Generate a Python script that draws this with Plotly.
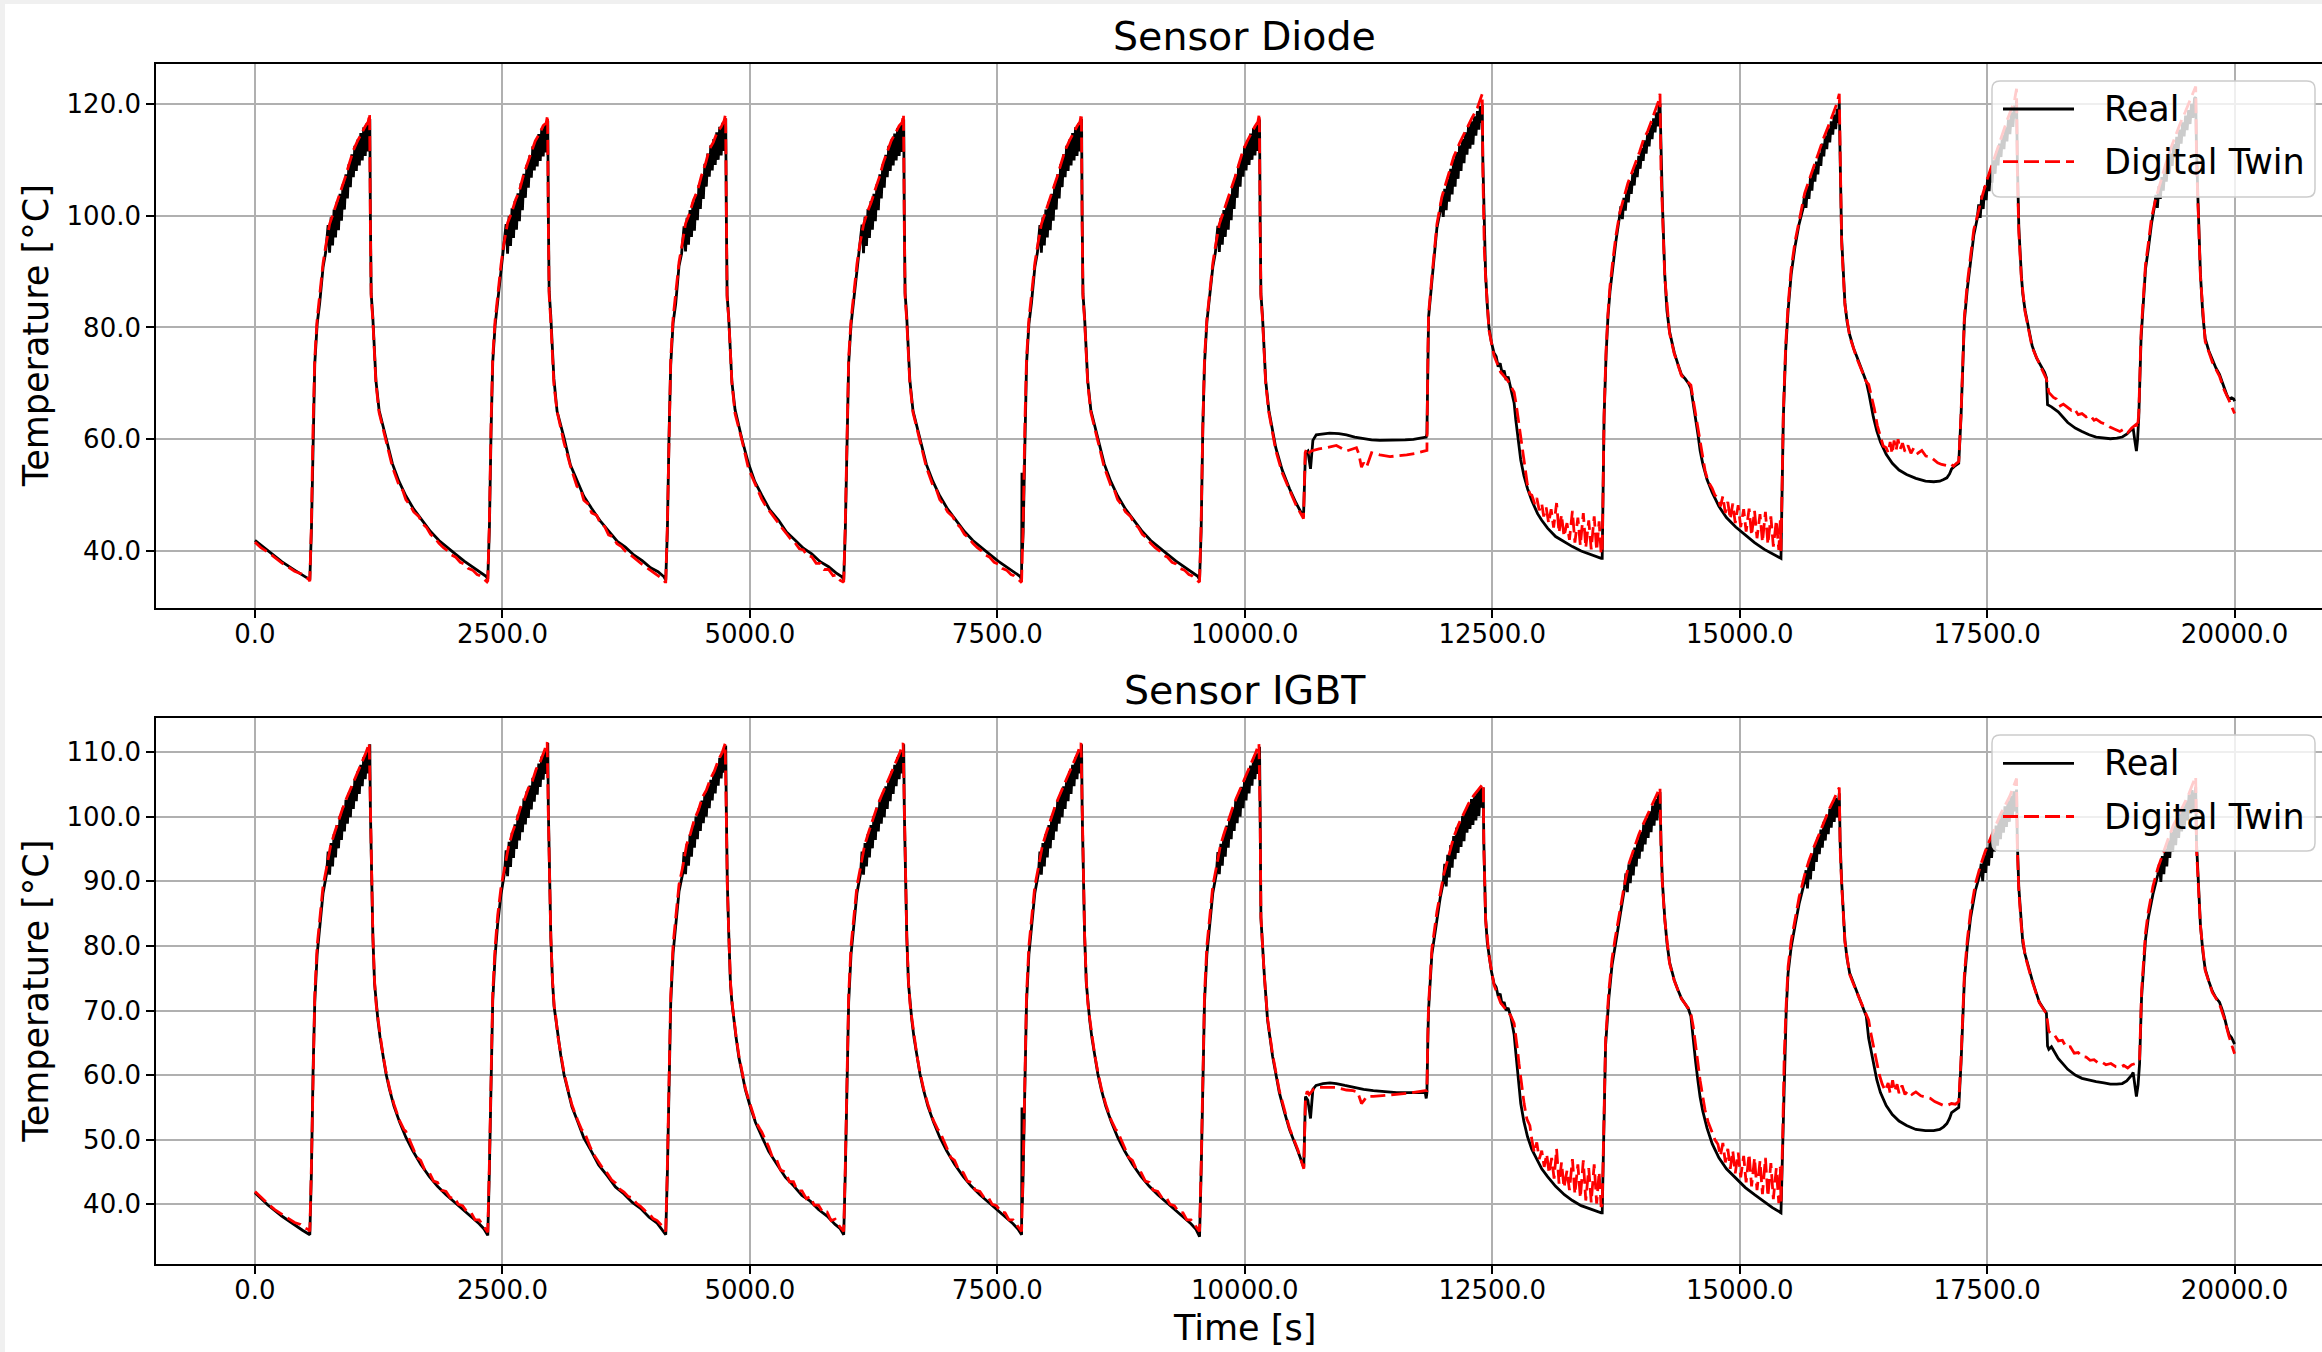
import plotly.graph_objects as go

# ---------------- data (time [s], temperature [°C]) ----------------
X_TICKS = [0, 2500, 5000, 7500, 10000, 12500, 15000, 17500, 20000]
Y_TICKS_DIODE = [40, 60, 80, 100, 120]
Y_TICKS_IGBT = [40, 50, 60, 70, 80, 90, 100, 110]

DIODE_REAL = [
    (0, 41.9), (130, 40.0), (270, 38.1), (400, 36.6), (480, 35.7),
    # cycle 1
    (554, 34.9), (570, 43.5), (587, 60.8), (604, 73.5), (628, 80.6), (654, 84.4), (688, 90.8), (714, 93.4),
    (739, 98.3), (754, 93.4), (769, 99.7), (784, 94.7), (799, 101.1), (814, 96.1), (829, 102.5), (844, 97.4), (859, 103.9), (874, 99.1), (889, 105.6), (904, 101.1), (919, 107.4), (934, 103.1), (949, 109.2), (964, 105.1), (979, 111.0), (994, 106.9), (1009, 112.5), (1024, 108.0), (1039, 113.6), (1054, 109.0), (1069, 114.8), (1084, 109.9), (1099, 115.8), (1114, 110.7), (1129, 116.5), (1144, 111.5), (1154, 116.0), (1160, 117.3),
    (1166, 100), (1174, 86), (1190, 82), (1205, 76.5), (1222, 70.5), (1254, 65.2), (1324, 60.1), (1389, 55.6), (1454, 52.5), (1524, 49.9), (1604, 47.5), (1694, 45.4), (1774, 43.5), (1859, 41.9), (1944, 40.6), (2029, 39.4), (2114, 38.2), (2199, 37.1), (2274, 36.2), (2334, 35.5),
    # cycle 2
    (2352, 35.0), (2368, 43.8), (2385, 61.2), (2402, 73.8), (2426, 80.4), (2452, 84.6), (2486, 90.5), (2512, 93.6),
    (2537, 98.5), (2552, 93.2), (2567, 99.9), (2582, 94.6), (2597, 101.3), (2612, 96.0), (2627, 102.6), (2642, 97.5), (2657, 104.0), (2672, 99.0), (2687, 105.8), (2702, 101.0), (2717, 107.5), (2732, 103.2), (2747, 109.1), (2762, 105.0), (2777, 110.8), (2792, 106.8), (2807, 112.4), (2822, 108.1), (2837, 113.5), (2852, 108.8), (2867, 114.6), (2882, 109.8), (2897, 115.6), (2912, 110.6), (2927, 116.3), (2942, 111.3), (2952, 115.8), (2958, 117.0),
    (2964, 100), (2972, 86.5), (2988, 82.2), (3003, 76.3), (3020, 70.8), (3052, 65.0), (3122, 60.3), (3187, 55.4), (3252, 52.6), (3322, 49.8), (3402, 47.6), (3492, 45.3), (3572, 43.6), (3657, 41.8), (3742, 40.7), (3827, 39.3), (3912, 38.3), (3997, 37.0), (4072, 36.3), (4132, 35.4),
    # cycle 3
    (4150, 34.8), (4166, 43.3), (4183, 60.5), (4200, 73.2), (4224, 80.8), (4250, 84.2), (4284, 91.0), (4310, 93.2),
    (4335, 98.1), (4350, 93.6), (4365, 99.6), (4380, 94.8), (4395, 101.0), (4410, 96.2), (4425, 102.4), (4440, 97.3), (4455, 103.8), (4470, 99.2), (4485, 105.5), (4500, 101.2), (4515, 107.3), (4530, 103.0), (4545, 109.3), (4560, 105.2), (4575, 111.1), (4590, 107.0), (4605, 112.6), (4620, 108.1), (4635, 113.7), (4650, 109.1), (4665, 114.9), (4680, 110.0), (4695, 115.9), (4710, 110.8), (4725, 116.6), (4740, 111.6), (4750, 116.2), (4756, 117.4),
    (4762, 100), (4770, 85.8), (4786, 81.8), (4801, 76.6), (4818, 70.3), (4850, 65.3), (4920, 60.0), (4985, 55.7), (5050, 52.4), (5120, 50.0), (5200, 47.4), (5290, 45.5), (5370, 43.4), (5455, 42.0), (5540, 40.5), (5625, 39.5), (5710, 38.1), (5795, 37.2), (5870, 36.1), (5930, 35.4),
    # cycle 4
    (5948, 34.9), (5964, 43.6), (5981, 61.0), (5998, 73.6), (6022, 80.5), (6048, 84.5), (6082, 90.6), (6108, 93.5),
    (6133, 98.4), (6148, 93.3), (6163, 99.8), (6178, 94.6), (6193, 101.2), (6208, 96.0), (6223, 102.6), (6238, 97.5), (6253, 103.9), (6268, 99.0), (6283, 105.6), (6298, 101.0), (6313, 107.4), (6328, 103.1), (6343, 109.2), (6358, 105.0), (6373, 110.9), (6388, 106.9), (6403, 112.5), (6418, 108.0), (6433, 113.6), (6448, 109.0), (6463, 114.7), (6478, 109.9), (6493, 115.7), (6508, 110.7), (6523, 116.4), (6538, 111.4), (6548, 115.9), (6554, 117.2),
    (6560, 100), (6568, 86.2), (6584, 82.1), (6599, 76.4), (6616, 70.6), (6648, 65.1), (6718, 60.2), (6783, 55.5), (6848, 52.5), (6918, 49.9), (6998, 47.5), (7088, 45.4), (7168, 43.5), (7253, 41.9), (7338, 40.6), (7423, 39.4), (7508, 38.2), (7593, 37.1), (7668, 36.2), (7728, 35.5),
    # cycle 5
    (7745, 34.9), (7749, 54.0), (7753, 40.0), (7761, 43.5), (7778, 60.8), (7795, 73.5), (7819, 80.6), (7845, 84.4), (7879, 90.8), (7905, 93.4),
    (7930, 98.3), (7945, 93.4), (7960, 99.7), (7975, 94.7), (7990, 101.1), (8005, 96.1), (8020, 102.5), (8035, 97.4), (8050, 103.9), (8065, 99.1), (8080, 105.6), (8095, 101.1), (8110, 107.4), (8125, 103.1), (8140, 109.2), (8155, 105.1), (8170, 111.0), (8185, 106.9), (8200, 112.5), (8215, 108.0), (8230, 113.6), (8245, 109.0), (8260, 114.8), (8275, 109.9), (8290, 115.8), (8305, 110.7), (8320, 116.5), (8335, 111.5), (8345, 116.0), (8351, 117.3),
    (8357, 100), (8365, 86), (8381, 82), (8396, 76.5), (8413, 70.5), (8445, 65.2), (8515, 60.1), (8580, 55.6), (8645, 52.5), (8715, 49.9), (8795, 47.5), (8885, 45.4), (8965, 43.5), (9050, 41.9), (9135, 40.6), (9220, 39.4), (9305, 38.2), (9390, 37.1), (9465, 36.2), (9525, 35.5),
    # cycle 6
    (9543, 34.9), (9559, 43.5), (9576, 62.0), (9593, 73.5), (9617, 81.0), (9643, 85.0), (9677, 90.8), (9703, 93.4),
    (9728, 98.2), (9743, 93.5), (9758, 99.6), (9773, 94.8), (9788, 101.0), (9803, 96.2), (9818, 102.4), (9833, 97.5), (9848, 103.8), (9863, 99.2), (9878, 105.5), (9893, 101.2), (9908, 107.3), (9923, 103.2), (9938, 109.1), (9953, 105.2), (9968, 110.9), (9983, 107.0), (9998, 112.4), (10013, 108.1), (10028, 113.5), (10043, 109.1), (10058, 114.7), (10073, 110.0), (10088, 115.7), (10103, 110.8), (10118, 116.4), (10133, 111.6), (10143, 115.9), (10149, 117.2),
    (10155, 100), (10163, 86), (10179, 82), (10194, 76.5), (10211, 70.5), (10243, 65.2), (10313, 58.5), (10378, 54.5), (10451, 51.2), (10518, 48.6), (10593, 46.1),
    (10613, 57.6), (10637, 57.9), (10664, 54.7), (10688, 59.8), (10722, 60.8), (10800, 61.0), (10857, 61.1), (10950, 61.0), (11027, 60.8), (11110, 60.4), (11196, 60.1), (11280, 59.9), (11365, 59.8), (11450, 59.8), (11535, 59.8), (11620, 59.9), (11704, 60.0), (11790, 60.2), (11833, 60.4),
    # cycle 7
    (11840, 61.0), (11850, 75.0), (11857, 81.9), (11890, 88.2), (11941, 97.8), (11970, 100.5),
    (11990, 103.0), (12005, 99.8), (12020, 104.8), (12035, 101.0), (12050, 106.6), (12065, 102.5), (12080, 108.4), (12095, 103.8), (12110, 110.2), (12125, 105.2), (12140, 111.4), (12155, 106.6), (12170, 112.6), (12185, 108.0), (12200, 113.7), (12215, 109.4), (12230, 114.9), (12245, 110.9), (12260, 116.0), (12275, 112.0), (12290, 116.9), (12305, 112.7), (12320, 117.8), (12335, 114.3), (12350, 118.7), (12365, 115.4), (12380, 119.6), (12390, 116.6), (12399, 119.8),
    (12405, 110), (12420, 95), (12433, 89.5), (12450, 84), (12467, 80), (12490, 77.5), (12517, 75.5), (12540, 74.8), (12560, 73.0), (12580, 73.6), (12600, 71.8), (12620, 72.3), (12640, 70.6), (12660, 71.2), (12687, 69.1), (12705, 68.0), (12721, 66.5), (12738, 63.5), (12755, 60.8), (12770, 58.5), (12788, 56.3), (12820, 53.5), (12856, 51.2), (12900, 49.0), (12958, 46.7), (13000, 45.5), (13059, 44.1), (13140, 42.6), (13229, 41.6), (13310, 40.8), (13398, 40.0), (13500, 39.3), (13601, 38.7),
    # cycle 8
    (13611, 38.7), (13630, 64.0), (13650, 75.0), (13669, 81.9), (13690, 86.5), (13717, 90.8), (13750, 95.5), (13785, 99.7),
    (13800, 101.7), (13815, 99.4), (13830, 103.2), (13845, 100.9), (13860, 104.7), (13875, 102.4), (13890, 106.2), (13905, 103.9), (13920, 107.7), (13935, 105.4), (13950, 109.2), (13965, 106.9), (13980, 110.7), (13995, 108.4), (14010, 112.1), (14025, 109.8), (14040, 113.5), (14055, 111.1), (14070, 114.8), (14085, 112.4), (14100, 116.2), (14115, 113.7), (14130, 117.4), (14145, 114.9), (14160, 118.5), (14175, 116.0), (14185, 119.6), (14195, 120.0),
    (14205, 110), (14219, 102.3), (14243, 89.5), (14265, 83.0), (14291, 79.3), (14339, 75.5), (14375, 73.5), (14411, 71.6), (14450, 70.8), (14483, 70.0), (14507, 69.1), (14531, 66.5), (14555, 63.5), (14579, 60.8), (14600, 58.0), (14626, 55.7), (14670, 52.8), (14722, 50.5), (14790, 48.0), (14866, 46.0), (14960, 44.3), (15057, 42.9), (15150, 41.5), (15249, 40.3), (15330, 39.5), (15417, 38.7),
    # cycle 9
    (15441, 64.0), (15465, 76.0), (15489, 83.0), (15520, 89.5), (15560, 94.6), (15600, 98.5), (15640, 101.3),
    (15655, 103.7), (15670, 101.4), (15685, 105.3), (15700, 103.0), (15715, 106.8), (15730, 104.5), (15745, 108.4), (15760, 106.1), (15775, 109.7), (15790, 107.4), (15805, 111.2), (15820, 108.9), (15835, 112.9), (15850, 110.6), (15865, 114.3), (15880, 111.9), (15895, 115.6), (15910, 113.1), (15925, 116.9), (15940, 114.5), (15955, 118.1), (15970, 115.5), (15985, 119.1), (15995, 116.6), (16006, 120.2),
    (16015, 110), (16030, 95.9), (16063, 84.4), (16085, 81.0), (16111, 78.7), (16150, 76.3), (16183, 74.8), (16220, 73.2), (16255, 71.6), (16279, 70.3), (16303, 68.4), (16330, 65.8), (16350, 64.0), (16385, 61.5), (16422, 59.5), (16480, 57.3), (16542, 55.7), (16610, 54.5), (16686, 53.7), (16780, 53.0), (16877, 52.5), (16960, 52.4), (17021, 52.5), (17060, 52.8), (17093, 53.1), (17120, 53.8), (17141, 54.7), (17180, 55.3), (17213, 55.7),
    # cycle 10
    (17236, 64.0), (17255, 76.0), (17270, 81.2), (17300, 87.0), (17332, 92.1), (17365, 96.5), (17400, 99.5),
    (17415, 102.0), (17430, 99.6), (17445, 103.6), (17460, 101.2), (17475, 105.2), (17490, 102.8), (17505, 106.8), (17520, 104.4), (17535, 108.3), (17550, 105.9), (17565, 109.9), (17580, 107.5), (17595, 111.5), (17610, 109.0), (17625, 112.9), (17640, 110.5), (17655, 114.4), (17670, 111.9), (17685, 115.8), (17700, 113.3), (17715, 117.2), (17730, 114.6), (17745, 118.5), (17760, 115.9), (17775, 119.7), (17787, 117.4), (17797, 120.5),
    (17805, 110), (17820, 98), (17845, 89.5), (17860, 86.0), (17883, 83.1), (17920, 79.5), (17955, 76.7), (18000, 74.5), (18051, 72.9), (18080, 72.0), (18099, 71.0), (18110, 66.2), (18150, 65.8), (18218, 64.9), (18314, 63.0), (18390, 62.0), (18458, 61.4), (18530, 60.8), (18601, 60.4), (18680, 60.2), (18745, 60.1), (18810, 60.2), (18865, 60.4), (18910, 60.9), (18937, 61.4), (18960, 61.8), (18975, 62.0), (18990, 60.0), (19008, 57.9), (19020, 60.0),
    # cycle 11
    (19032, 64.0), (19055, 78.0), (19080, 86.3), (19100, 90.5), (19128, 94.0), (19160, 98.5), (19192, 101.8),
    (19205, 103.7), (19220, 101.4), (19235, 105.3), (19250, 103.0), (19265, 106.9), (19280, 104.5), (19295, 108.4), (19310, 106.1), (19325, 109.7), (19340, 107.5), (19355, 111.1), (19370, 108.9), (19385, 112.8), (19400, 110.4), (19415, 114.1), (19430, 111.6), (19445, 115.4), (19460, 112.9), (19475, 116.7), (19490, 114.2), (19505, 117.9), (19520, 115.3), (19535, 118.9), (19550, 116.4), (19565, 120.0), (19580, 117.5), (19595, 121.0), (19607, 121.2),
    (19615, 112), (19631, 102.3), (19655, 89.5), (19680, 82.0), (19703, 78.0), (19740, 75.8), (19775, 74.2), (19810, 72.8), (19847, 71.6), (19870, 70.5), (19895, 69.1), (19920, 68.0), (19943, 67.2), (19970, 67.4), (19991, 67.2), (20000, 66.8),
]

DIODE_TWIN = [
    (0, 41.6), (60, 40.6), (130, 39.8), (200, 38.8), (270, 37.9), (340, 37.1), (400, 36.4), (470, 35.9), (540, 35.0),
    (554, 34.6), (570, 45), (587, 62.5), (604, 74.5), (628, 81.5), (654, 85.8), (688, 91.5), (714, 94.5), (754, 98.5), (794, 100.6), (834, 102.6), (874, 104.6), (914, 107), (954, 109.4), (994, 111.7), (1034, 113.3), (1074, 114.8), (1114, 116), (1144, 116.8), (1158, 118.3),
    (1166, 98), (1174, 85.5), (1190, 81.5), (1205, 76), (1222, 70), (1254, 64.8), (1324, 59.6), (1389, 55), (1454, 51.8), (1494, 50.8), (1524, 49.2), (1564, 48.3), (1604, 47), (1654, 46.2), (1694, 44.9), (1734, 44.2), (1774, 43), (1814, 42.4), (1859, 41.4), (1904, 40.6), (1944, 40.1), (1984, 39.3), (2029, 38.9), (2074, 38), (2114, 37.7), (2154, 36.9), (2199, 36.6), (2244, 35.8), (2274, 35.6), (2314, 34.9), (2344, 34.5),
    (2352, 34.7), (2368, 45.3), (2385, 62.8), (2402, 74.7), (2426, 81.3), (2452, 86.0), (2486, 91.3), (2512, 94.7), (2552, 98.7), (2592, 100.5), (2632, 102.8), (2672, 104.5), (2712, 107.2), (2752, 109.3), (2792, 111.5), (2832, 113.4), (2872, 114.6), (2912, 116.1), (2942, 116.6), (2956, 118.0),
    (2964, 98), (2972, 85.8), (2988, 81.3), (3003, 76.2), (3020, 69.8), (3052, 65), (3122, 59.4), (3187, 55.2), (3252, 51.6), (3292, 51), (3322, 49.1), (3362, 48.5), (3402, 46.8), (3452, 46.4), (3492, 44.8), (3532, 44.4), (3572, 42.9), (3612, 42.6), (3657, 41.3), (3702, 40.8), (3742, 40), (3782, 39.5), (3827, 38.8), (3872, 38.2), (3912, 37.6), (3952, 37.1), (3997, 36.5), (4042, 36), (4072, 35.5), (4112, 35.1), (4142, 34.5),
    (4150, 34.5), (4166, 44.8), (4183, 62.3), (4200, 74.3), (4224, 81.7), (4250, 85.6), (4284, 91.7), (4310, 94.3), (4350, 98.6), (4390, 100.4), (4430, 102.8), (4470, 104.4), (4510, 107.1), (4550, 109.2), (4590, 111.9), (4630, 113.1), (4670, 115.0), (4710, 115.9), (4740, 117.0), (4754, 118.2),
    (4762, 98), (4770, 85.2), (4786, 81.7), (4801, 75.8), (4818, 70.2), (4850, 64.6), (4920, 59.8), (4985, 54.8), (5050, 52), (5090, 50.6), (5120, 49.3), (5160, 48.1), (5200, 47.1), (5250, 46), (5290, 45), (5330, 44), (5370, 43.1), (5410, 42.2), (5455, 41.5), (5500, 40.4), (5540, 40.2), (5580, 39.1), (5625, 39), (5670, 37.8), (5710, 37.8), (5750, 36.7), (5795, 36.7), (5840, 35.6), (5870, 35.7), (5910, 34.8), (5940, 34.5),
    (5948, 34.6), (5964, 45.1), (5981, 62.7), (5998, 74.6), (6022, 81.4), (6048, 85.9), (6082, 91.4), (6108, 94.6), (6148, 98.4), (6188, 100.7), (6228, 102.5), (6268, 104.8), (6308, 106.9), (6348, 109.5), (6388, 111.6), (6428, 113.4), (6468, 114.7), (6508, 116.1), (6538, 116.7), (6552, 118.2),
    (6560, 98), (6568, 85.5), (6584, 81.5), (6599, 76), (6616, 70), (6648, 64.8), (6718, 59.6), (6783, 55), (6848, 51.8), (6888, 50.8), (6918, 49.2), (6958, 48.3), (6998, 47), (7048, 46.2), (7088, 44.9), (7128, 44.2), (7168, 43), (7208, 42.4), (7253, 41.4), (7298, 40.6), (7338, 40.1), (7378, 39.3), (7423, 38.9), (7468, 38), (7508, 37.7), (7548, 36.9), (7593, 36.6), (7638, 35.8), (7668, 35.6), (7708, 34.9), (7738, 34.5),
    (7745, 34.6), (7761, 45), (7778, 62.5), (7795, 74.5), (7819, 81.5), (7845, 85.8), (7879, 91.5), (7905, 94.5), (7945, 98.5), (7985, 100.6), (8025, 102.6), (8065, 104.6), (8105, 107), (8145, 109.4), (8185, 111.7), (8225, 113.3), (8265, 114.8), (8305, 116), (8335, 116.8), (8349, 118.3),
    (8357, 98), (8365, 85.5), (8381, 81.5), (8396, 76), (8413, 70), (8445, 64.8), (8515, 59.6), (8580, 55), (8645, 51.8), (8685, 50.8), (8715, 49.2), (8755, 48.3), (8795, 47), (8845, 46.2), (8885, 44.9), (8925, 44.2), (8965, 43), (9005, 42.4), (9050, 41.4), (9095, 40.6), (9135, 40.1), (9175, 39.3), (9220, 38.9), (9265, 38), (9305, 37.7), (9345, 36.9), (9390, 36.6), (9435, 35.8), (9465, 35.6), (9505, 34.9), (9535, 34.5),
    (9543, 34.6), (9559, 45), (9576, 62.5), (9593, 74.5), (9617, 81.5), (9643, 85.8), (9677, 91.5), (9703, 94.5), (9743, 98.5), (9783, 100.6), (9823, 102.6), (9863, 104.6), (9903, 107), (9943, 109.4), (9983, 111.7), (10023, 113.3), (10063, 114.8), (10103, 116), (10133, 116.8), (10147, 118.3),
    (10155, 98), (10163, 85.5), (10179, 81.5), (10194, 76), (10211, 70), (10243, 64.8), (10313, 58), (10378, 54), (10451, 50.8), (10518, 48.2), (10593, 45.8),
    (10610, 57.6), (10625, 58.3), (10640, 57.5), (10671, 57.9), (10750, 58.3), (10823, 58.5), (10925, 58.9), (11027, 57.9), (11080, 58.2), (11128, 58.5), (11150, 57.5), (11179, 55.0), (11200, 55.8), (11230, 55.0), (11281, 57.6), (11365, 57.2), (11467, 56.9), (11550, 57.0), (11636, 57.2), (11730, 57.5), (11823, 57.9),
    (11840, 58.0), (11850, 76), (11857, 82.5), (11890, 89), (11941, 98.5), (11990, 103.3), (12050, 106.9), (12110, 110.5), (12170, 113), (12230, 115.3), (12290, 117.3), (12350, 119.3), (12385, 121), (12399, 121.8),
    (12405, 108), (12420, 94), (12433, 89), (12467, 79.5), (12517, 75), (12585, 72), (12653, 70.6), (12687, 69.5), (12721, 68.4), (12740, 66.5), (12755, 64.6), (12788, 60.1), (12822, 55.7), (12856, 51.8), (12880, 50.2),
    (12900, 50), (12930, 48.4), (12950, 49.5), (12975, 47.3), (13000, 48.5), (13020, 46.2), (13045, 47.8), (13070, 45), (13095, 47.5), (13120, 44.2), (13150, 48.6), (13175, 43.3), (13200, 46.5), (13225, 42.6), (13255, 45), (13280, 42), (13310, 47.2), (13335, 41.5), (13365, 46), (13390, 41), (13420, 46.8), (13445, 40.6), (13475, 45.5), (13500, 40.3), (13530, 46.2), (13555, 40.1), (13580, 45.3), (13600, 39.5), (13611, 40),
    (13630, 64.5), (13650, 76), (13669, 82.5), (13690, 87.5), (13717, 91.8), (13750, 96.5), (13788, 100.5), (13830, 103.5), (13870, 105.8), (13910, 107.7), (13950, 109.5), (13990, 111.5), (14030, 113.7), (14070, 115.1), (14110, 117), (14150, 118.8), (14180, 120.5), (14195, 121.8),
    (14205, 108), (14219, 101), (14243, 89), (14291, 79), (14339, 75.3), (14411, 71.4), (14483, 70.2), (14507, 69.7), (14531, 67), (14555, 64.5), (14579, 62), (14600, 59.5), (14626, 56.5), (14650, 54.4), (14680, 52.5), (14722, 51.2), (14750, 50),
    (14780, 49.5), (14805, 48), (14830, 49.8), (14855, 46.8), (14880, 48.8), (14905, 45.7), (14930, 48.5), (14955, 45), (14985, 48.2), (15010, 44.3), (15040, 47.5), (15065, 43.5), (15095, 47.6), (15120, 42.8), (15150, 47.2), (15175, 42.3), (15205, 46.6), (15230, 41.6), (15260, 47), (15285, 41.2), (15315, 46.2), (15340, 40.8), (15370, 45.5), (15395, 40.2), (15410, 45.5), (15417, 40),
    (15441, 65), (15465, 77), (15489, 84), (15520, 90.5), (15560, 95.5), (15600, 99), (15656, 104), (15700, 106.3), (15750, 109), (15800, 111.5), (15850, 114), (15900, 116.2), (15950, 118.4), (15980, 120), (16006, 121.8),
    (16015, 108), (16030, 95), (16063, 84), (16111, 78.4), (16183, 74.5), (16255, 71.4), (16279, 70.3), (16303, 69.8), (16330, 67.8), (16360, 65.5), (16390, 62.5), (16420, 60.5), (16450, 58.8), (16480, 58.5), (16500, 57.6), (16520, 59.5), (16540, 57.4), (16560, 59.8), (16580, 58), (16600, 60), (16620, 58.2), (16645, 59.3), (16670, 57.8), (16700, 58.9), (16730, 57.5), (16760, 58.5), (16800, 57.5), (16840, 58), (16880, 57), (16925, 56.9), (16960, 56.3), (17000, 55.8), (17040, 55.5), (17093, 55.3), (17130, 55.6), (17160, 55.2), (17190, 55.7), (17213, 56),
    (17236, 64.5), (17255, 77), (17270, 82), (17300, 88), (17332, 93), (17365, 97.5), (17404, 100.2), (17450, 103.5), (17500, 106.5), (17550, 109.2), (17600, 112), (17650, 114.5), (17700, 117), (17750, 119.3), (17780, 121), (17797, 122.7),
    (17805, 108), (17820, 97), (17845, 89), (17883, 82.8), (17955, 76.4), (18051, 72.6), (18099, 70.8), (18123, 68.4), (18150, 67.8), (18170, 67.5), (18200, 67.2), (18240, 66), (18270, 66.3), (18314, 65.6), (18350, 65.2), (18380, 65.5), (18420, 64.4), (18458, 64.6), (18500, 64), (18540, 64.3), (18580, 63.4), (18601, 63.6), (18650, 63), (18697, 62.7), (18740, 62.2), (18790, 61.8), (18841, 61.4), (18880, 61.8), (18920, 61.2), (18960, 62), (19008, 62.7), (19020, 62),
    (19032, 64.8), (19055, 79), (19080, 87), (19100, 91.3), (19128, 95), (19160, 99.5), (19200, 102.8), (19250, 106), (19300, 109), (19350, 111.8), (19400, 114.3), (19450, 116.5), (19500, 118.5), (19550, 120.5), (19580, 122), (19607, 123.1),
    (19615, 110), (19631, 101), (19655, 89), (19703, 77.5), (19775, 73.8), (19847, 71.3), (19895, 68.8), (19943, 67), (19970, 66), (20000, 64.6),
]

IGBT_REAL = [
    (0, 41.8), (130, 39.9), (270, 38.2), (400, 36.8), (480, 36.0),
    # cycle 1
    (554, 35.3), (570, 44.9), (587, 60.7), (604, 71.3), (628, 78.7), (654, 83.2), (688, 88.2), (724, 91.2),
    (739, 94.6), (754, 91.0), (769, 95.9), (784, 92.3), (799, 97.3), (814, 93.7), (829, 98.7), (844, 95.1), (859, 100.1), (874, 96.4), (889, 101.4), (904, 97.7), (919, 102.6), (934, 98.9), (949, 103.7), (964, 99.9), (979, 104.7), (994, 101.2), (1009, 105.8), (1024, 102.4), (1039, 107.0), (1054, 103.5), (1069, 108.0), (1084, 104.7), (1099, 109.2), (1114, 105.8), (1129, 110.1), (1144, 106.7), (1154, 110.3), (1160, 111.2),
    (1166, 101), (1176, 90), (1191, 81.5), (1208, 74.2), (1224, 70.8), (1242, 68.5), (1264, 65.8), (1292, 62.9), (1324, 60.2), (1359, 57.8), (1404, 55.2), (1460, 52.8), (1524, 50.4), (1594, 48.3), (1674, 46.2), (1762, 44.3), (1844, 42.8), (1930, 41.5), (2014, 40.4), (2097, 39.3), (2184, 38.1), (2265, 37.0), (2314, 36.2),
    # cycle 2
    (2352, 35.2), (2368, 45.2), (2385, 61.0), (2402, 71.5), (2426, 78.5), (2452, 83.4), (2486, 88.0), (2522, 91.4),
    (2537, 94.8), (2552, 90.8), (2567, 96.1), (2582, 92.2), (2597, 97.5), (2612, 93.6), (2627, 98.8), (2642, 95.0), (2657, 100.3), (2672, 96.3), (2687, 101.5), (2702, 97.6), (2717, 102.8), (2732, 98.8), (2747, 103.9), (2762, 99.8), (2777, 104.8), (2792, 101.1), (2807, 106.0), (2822, 102.3), (2837, 107.1), (2852, 103.4), (2867, 108.2), (2882, 104.6), (2897, 109.3), (2912, 105.7), (2927, 110.3), (2942, 106.6), (2952, 110.5), (2958, 111.4),
    (2964, 101), (2974, 90.2), (2989, 81.3), (3006, 74.4), (3022, 70.6), (3040, 68.6), (3062, 65.7), (3090, 63.0), (3122, 60.1), (3157, 57.9), (3202, 55.1), (3258, 52.9), (3322, 50.3), (3392, 48.4), (3472, 46.1), (3560, 44.4), (3642, 42.7), (3728, 41.6), (3812, 40.3), (3895, 39.4), (3982, 38.0), (4063, 37.1), (4112, 36.1),
    # cycle 3
    (4150, 35.3), (4166, 44.6), (4183, 60.4), (4200, 71.0), (4224, 78.9), (4250, 83.0), (4284, 88.4), (4320, 91.1),
    (4335, 94.5), (4350, 91.1), (4365, 95.8), (4380, 92.4), (4395, 97.2), (4410, 93.8), (4425, 98.6), (4440, 95.2), (4455, 100.0), (4470, 96.5), (4485, 101.3), (4500, 97.8), (4515, 102.5), (4530, 99.0), (4545, 103.6), (4560, 100.0), (4575, 104.6), (4590, 101.3), (4605, 105.7), (4620, 102.5), (4635, 106.9), (4650, 103.6), (4665, 107.9), (4680, 104.8), (4695, 109.1), (4710, 105.9), (4725, 110.0), (4740, 106.8), (4750, 110.2), (4756, 111.0),
    (4762, 101), (4772, 89.8), (4787, 81.7), (4804, 74.0), (4820, 71.0), (4838, 68.4), (4860, 65.9), (4888, 62.8), (4920, 60.3), (4955, 57.7), (5000, 55.3), (5056, 52.7), (5120, 50.5), (5190, 48.2), (5270, 46.3), (5358, 44.2), (5440, 42.9), (5526, 41.4), (5610, 40.5), (5693, 39.2), (5780, 38.2), (5861, 36.9), (5910, 36.3),
    # cycle 4
    (5948, 35.3), (5964, 44.9), (5981, 60.7), (5998, 71.3), (6022, 78.7), (6048, 83.2), (6082, 88.2), (6118, 91.2),
    (6133, 94.6), (6148, 91.0), (6163, 95.9), (6178, 92.3), (6193, 97.3), (6208, 93.7), (6223, 98.7), (6238, 95.1), (6253, 100.1), (6268, 96.4), (6283, 101.4), (6298, 97.7), (6313, 102.6), (6328, 98.9), (6343, 103.7), (6358, 99.9), (6373, 104.7), (6388, 101.2), (6403, 105.8), (6418, 102.4), (6433, 107.0), (6448, 103.5), (6463, 108.0), (6478, 104.7), (6493, 109.2), (6508, 105.8), (6523, 110.1), (6538, 106.7), (6548, 110.3), (6554, 111.2),
    (6560, 101), (6570, 90), (6585, 81.5), (6602, 74.2), (6618, 70.8), (6636, 68.5), (6658, 65.8), (6686, 62.9), (6718, 60.2), (6753, 57.8), (6798, 55.2), (6854, 52.8), (6918, 50.4), (6988, 48.3), (7068, 46.2), (7156, 44.3), (7238, 42.8), (7324, 41.5), (7408, 40.4), (7491, 39.3), (7578, 38.1), (7659, 37.0), (7708, 36.2),
    # cycle 5
    (7745, 35.3), (7749, 55.0), (7753, 40.0), (7761, 44.9), (7778, 60.7), (7795, 71.3), (7819, 78.7), (7845, 83.2), (7879, 88.2), (7915, 91.2),
    (7930, 94.6), (7945, 91.0), (7960, 95.9), (7975, 92.3), (7990, 97.3), (8005, 93.7), (8020, 98.7), (8035, 95.1), (8050, 100.1), (8065, 96.4), (8080, 101.4), (8095, 97.7), (8110, 102.6), (8125, 98.9), (8140, 103.7), (8155, 99.9), (8170, 104.7), (8185, 101.2), (8200, 105.8), (8215, 102.4), (8230, 107.0), (8245, 103.5), (8260, 108.0), (8275, 104.7), (8290, 109.2), (8305, 105.8), (8320, 110.1), (8335, 106.7), (8345, 110.3), (8351, 111.2),
    (8357, 101), (8367, 90), (8382, 81.5), (8399, 74.2), (8415, 70.8), (8433, 68.5), (8455, 65.8), (8483, 62.9), (8515, 60.2), (8550, 57.8), (8595, 55.2), (8651, 52.8), (8715, 50.4), (8785, 48.3), (8865, 46.2), (8953, 44.3), (9035, 42.8), (9121, 41.5), (9205, 40.4), (9288, 39.3), (9375, 38.1), (9456, 37.0), (9505, 36.2),
    # cycle 6
    (9543, 35.0), (9559, 44.9), (9576, 60.7), (9593, 71.3), (9617, 78.7), (9643, 83.2), (9677, 88.2), (9713, 91.2),
    (9728, 94.5), (9743, 91.1), (9758, 95.8), (9773, 92.4), (9788, 97.2), (9803, 93.8), (9818, 98.6), (9833, 95.2), (9848, 100.0), (9863, 96.5), (9878, 101.3), (9893, 97.8), (9908, 102.5), (9923, 99.0), (9938, 103.6), (9953, 100.0), (9968, 104.6), (9983, 101.3), (9998, 105.7), (10013, 102.5), (10028, 106.9), (10043, 103.6), (10058, 107.9), (10073, 104.8), (10088, 109.0), (10103, 105.8), (10118, 109.8), (10133, 106.6), (10143, 110.0), (10149, 110.8),
    (10155, 101.2), (10163, 84.3), (10196, 75.8), (10230, 68.5), (10281, 62.9), (10349, 57.3), (10400, 54.3), (10451, 51.6), (10535, 48.3), (10596, 45.7),
    (10613, 56.7), (10637, 56.1), (10664, 53.3), (10688, 57.8), (10720, 58.4), (10790, 58.7), (10860, 58.8), (10925, 58.7), (11010, 58.4), (11094, 58.1), (11200, 57.8), (11298, 57.6), (11420, 57.4), (11535, 57.3), (11680, 57.3), (11823, 57.3), (11833, 56.4),
    # cycle 7
    (11840, 57.3), (11850, 66.0), (11857, 70.2), (11890, 78.7), (11941, 84.3), (11975, 87.5), (12005, 89.8),
    (12020, 92.7), (12035, 89.2), (12050, 94.1), (12065, 90.6), (12080, 95.6), (12095, 92.1), (12110, 97.0), (12125, 93.4), (12140, 98.3), (12155, 94.4), (12170, 99.2), (12185, 95.3), (12200, 100.1), (12215, 96.2), (12230, 101.0), (12245, 97.5), (12260, 102.0), (12275, 98.1), (12290, 102.7), (12305, 98.7), (12320, 103.3), (12335, 99.4), (12350, 104.0), (12365, 100.1), (12380, 104.6), (12395, 101.4), (12409, 104.5),
    (12415, 96), (12422, 92), (12433, 84.3), (12450, 80.5), (12467, 78.7), (12490, 76.2), (12517, 74.2), (12540, 73.6), (12560, 72.2), (12580, 72.6), (12600, 70.9), (12620, 71.3), (12640, 70.0), (12660, 70.4), (12687, 69.1), (12705, 67.8), (12721, 66.3), (12738, 63.5), (12755, 60.7), (12770, 58.0), (12788, 55.6), (12820, 52.8), (12856, 50.5), (12900, 48.5), (12958, 46.6), (13000, 45.5), (13059, 44.3), (13140, 42.8), (13229, 41.5), (13310, 40.6), (13398, 39.8), (13500, 39.2), (13601, 38.7),
    # cycle 8
    (13611, 38.7), (13630, 55), (13645, 64.6), (13678, 71.9), (13710, 77), (13740, 79.8), (13790, 84.5), (13835, 88.8),
    (13850, 91.2), (13865, 88.3), (13880, 92.6), (13895, 89.7), (13910, 93.8), (13925, 90.9), (13940, 95.2), (13955, 92.3), (13970, 96.5), (13985, 93.5), (14000, 97.6), (14015, 94.6), (14030, 98.8), (14045, 95.7), (14060, 99.8), (14075, 96.7), (14090, 100.8), (14105, 97.6), (14120, 101.7), (14135, 98.6), (14150, 102.7), (14165, 99.4), (14180, 103.4), (14195, 103.5),
    (14205, 96), (14219, 89.9), (14243, 84.3), (14265, 80.5), (14291, 77.5), (14339, 74.7), (14375, 73.2), (14411, 71.9), (14450, 71.0), (14483, 70.2), (14507, 69.1), (14531, 65.2), (14555, 62.0), (14579, 59.0), (14600, 56.6), (14626, 54.5), (14670, 51.8), (14722, 49.4), (14790, 47.2), (14866, 45.5), (14960, 44.0), (15057, 42.6), (15150, 41.5), (15249, 40.4), (15330, 39.5), (15417, 38.7),
    # cycle 9
    (15435, 50), (15450, 61.8), (15470, 70), (15489, 75.8), (15520, 79.8), (15560, 83.2), (15600, 86.5), (15655, 89.9),
    (15670, 91.7), (15685, 88.9), (15700, 93.0), (15715, 90.3), (15730, 94.3), (15745, 91.6), (15760, 95.6), (15775, 93.0), (15790, 96.8), (15805, 94.2), (15820, 98.0), (15835, 95.2), (15850, 99.2), (15865, 96.3), (15880, 100.2), (15895, 97.3), (15910, 101.2), (15925, 98.3), (15940, 102.2), (15955, 99.2), (15970, 102.9), (15985, 99.9), (16006, 103.6),
    (16015, 96), (16030, 89.9), (16063, 80.9), (16085, 78), (16111, 75.8), (16150, 74.2), (16183, 73), (16220, 71.6), (16255, 70.2), (16279, 69.1), (16303, 65.7), (16330, 63.4), (16350, 61.8), (16385, 59.3), (16422, 57.3), (16480, 55.3), (16542, 53.9), (16610, 52.9), (16686, 52.2), (16780, 51.6), (16877, 51.4), (16960, 51.4), (17021, 51.6), (17060, 52.0), (17093, 52.5), (17120, 53.3), (17141, 54.2), (17180, 54.7), (17213, 55.0),
    # cycle 10
    (17236, 61.8), (17255, 70), (17270, 74.7), (17300, 80), (17332, 84.3), (17380, 88.5), (17425, 91),
    (17440, 92.7), (17455, 90.0), (17470, 94.0), (17485, 91.3), (17500, 95.2), (17515, 92.4), (17530, 96.4), (17545, 93.6), (17560, 97.5), (17575, 94.6), (17590, 98.6), (17605, 95.5), (17620, 99.6), (17635, 96.5), (17650, 100.7), (17665, 97.5), (17680, 101.6), (17695, 98.4), (17710, 102.4), (17725, 99.2), (17740, 103.2), (17755, 100.0), (17770, 103.9), (17785, 100.8), (17797, 104.2),
    (17805, 96), (17820, 89), (17845, 83.2), (17860, 80.5), (17883, 78.7), (17920, 76.5), (17955, 74.7), (17990, 73.0), (18027, 71.3), (18060, 70.5), (18099, 69.6), (18110, 64.5), (18123, 64.0), (18150, 64.4), (18218, 62.6), (18314, 60.9), (18390, 60.0), (18458, 59.5), (18530, 59.2), (18601, 59.0), (18680, 58.8), (18745, 58.6), (18810, 58.6), (18865, 58.7), (18910, 59.1), (18937, 59.5), (18960, 60.0), (18975, 60.4), (18990, 58.5), (19008, 56.7), (19025, 58.5),
    # cycle 11
    (19040, 61.8), (19060, 72), (19080, 77.5), (19100, 81), (19128, 84.3), (19175, 88), (19224, 91),
    (19240, 92.7), (19255, 89.9), (19270, 93.9), (19285, 91.1), (19300, 95.0), (19315, 92.3), (19330, 96.3), (19345, 93.6), (19360, 97.6), (19375, 94.6), (19390, 98.6), (19405, 95.6), (19420, 99.7), (19435, 96.7), (19450, 100.7), (19465, 97.7), (19480, 101.6), (19495, 98.6), (19510, 102.5), (19525, 99.4), (19540, 103.4), (19555, 100.4), (19570, 104.1), (19585, 101.0), (19607, 104.6),
    (19615, 96), (19631, 90), (19655, 83.2), (19680, 79), (19703, 76.4), (19740, 74.5), (19775, 73), (19810, 72), (19847, 71.3), (19870, 70.3), (19895, 69.1), (19920, 67.5), (19943, 66.3), (19970, 65.8), (19991, 65.2), (20000, 64.8),
]

IGBT_TWIN = [
    (0, 42.0), (65, 41.0), (130, 40.1), (200, 39.2), (270, 38.5), (330, 38.0), (400, 37.2), (460, 36.9), (500, 36.4), (540, 36.1),
    (554, 35.8), (570, 46), (587, 62), (604, 72.5), (628, 80), (654, 84.5), (688, 89.3), (728, 92.5), (764, 95.5), (804, 97.5), (844, 99.4), (884, 101.2), (924, 102.8), (964, 104.2), (1004, 105.6), (1044, 107.2), (1084, 108.6), (1124, 110), (1154, 111.4),
    (1166, 100), (1176, 89.5), (1191, 81.5), (1208, 74.5), (1224, 71), (1242, 68.8), (1264, 66), (1292, 63.2), (1324, 60.5), (1359, 58), (1404, 55.5), (1460, 53), (1504, 51.6), (1524, 51.3), (1594, 48.8), (1634, 47.3), (1674, 46.8), (1714, 45.4), (1762, 44.9), (1804, 43.6), (1844, 43.4), (1884, 42.2), (1930, 42.0), (1974, 41.0), (2014, 41.1), (2054, 40.0), (2097, 39.8), (2144, 38.8), (2184, 38.7), (2224, 37.6), (2265, 37.6), (2314, 36.6), (2344, 36.0),
    (2352, 35.7), (2368, 46.3), (2385, 62.3), (2402, 72.7), (2426, 79.8), (2452, 84.7), (2486, 89.1), (2526, 92.7), (2562, 95.4), (2602, 97.6), (2642, 99.3), (2682, 101.4), (2722, 102.6), (2762, 104.4), (2802, 105.5), (2842, 107.4), (2882, 108.5), (2922, 110.1), (2952, 111.5),
    (2964, 100), (2974, 89.7), (2989, 81.3), (3006, 74.6), (3022, 70.8), (3040, 68.9), (3062, 65.8), (3090, 63.3), (3122, 60.4), (3157, 58.1), (3202, 55.4), (3258, 53.1), (3302, 51.5), (3322, 51.4), (3392, 48.7), (3432, 47.5), (3472, 46.6), (3512, 45.6), (3560, 44.8), (3602, 43.8), (3642, 43.3), (3682, 42.4), (3728, 41.9), (3772, 41.2), (3812, 41), (3852, 40.2), (3895, 39.7), (3942, 39), (3982, 38.6), (4022, 37.8), (4063, 37.5), (4112, 36.7), (4142, 36.0),
    (4150, 35.8), (4166, 45.8), (4183, 61.8), (4200, 72.3), (4224, 80.2), (4250, 84.3), (4284, 89.5), (4324, 92.4), (4360, 95.6), (4400, 97.4), (4440, 99.6), (4480, 101.0), (4520, 103.0), (4560, 104.1), (4600, 105.8), (4640, 107.0), (4680, 108.7), (4720, 109.9), (4750, 111.3),
    (4762, 100), (4772, 89.3), (4787, 81.7), (4804, 74.4), (4820, 71.2), (4838, 68.7), (4860, 66.1), (4888, 63.1), (4920, 60.6), (4955, 57.9), (5000, 55.6), (5056, 52.9), (5100, 51.7), (5120, 51.2), (5190, 48.9), (5230, 47.2), (5270, 46.9), (5310, 45.3), (5358, 45.0), (5400, 43.5), (5440, 43.5), (5480, 42.1), (5526, 42.1), (5570, 40.9), (5610, 41.2), (5650, 39.9), (5693, 39.9), (5740, 38.7), (5780, 38.8), (5820, 37.5), (5861, 37.7), (5910, 36.5), (5940, 36.0),
    (5948, 35.8), (5964, 46), (5981, 62), (5998, 72.5), (6022, 80), (6048, 84.5), (6082, 89.3), (6122, 92.5), (6158, 95.5), (6198, 97.5), (6238, 99.4), (6278, 101.2), (6318, 102.8), (6358, 104.2), (6398, 105.6), (6438, 107.2), (6478, 108.6), (6518, 110), (6548, 111.4),
    (6560, 100), (6570, 89.5), (6585, 81.5), (6602, 74.5), (6618, 71), (6636, 68.8), (6658, 66), (6686, 63.2), (6718, 60.5), (6753, 58), (6798, 55.5), (6854, 53), (6898, 51.6), (6918, 51.3), (6988, 48.8), (7028, 47.3), (7068, 46.8), (7108, 45.4), (7156, 44.9), (7198, 43.6), (7238, 43.4), (7278, 42.2), (7324, 42.0), (7368, 41.0), (7408, 41.1), (7448, 40.0), (7491, 39.8), (7538, 38.8), (7578, 38.7), (7618, 37.6), (7659, 37.6), (7708, 36.6), (7738, 36.0),
    (7745, 35.8), (7761, 46), (7778, 62), (7795, 72.5), (7819, 80), (7845, 84.5), (7879, 89.3), (7919, 92.5), (7955, 95.5), (7995, 97.5), (8035, 99.4), (8075, 101.2), (8115, 102.8), (8155, 104.2), (8195, 105.6), (8235, 107.2), (8275, 108.6), (8315, 110), (8345, 111.4),
    (8357, 100), (8367, 89.5), (8382, 81.5), (8399, 74.5), (8415, 71), (8433, 68.8), (8455, 66), (8483, 63.2), (8515, 60.5), (8550, 58), (8595, 55.5), (8651, 53), (8695, 51.6), (8715, 51.3), (8785, 48.8), (8825, 47.3), (8865, 46.8), (8905, 45.4), (8953, 44.9), (8995, 43.6), (9035, 43.4), (9075, 42.2), (9121, 42.0), (9165, 41.0), (9205, 41.1), (9245, 40.0), (9288, 39.8), (9335, 38.8), (9375, 38.7), (9415, 37.6), (9456, 37.6), (9505, 36.6), (9535, 36.0),
    (9543, 35.8), (9559, 46), (9576, 62), (9593, 72.5), (9617, 80), (9643, 84.5), (9677, 89.3), (9717, 92.5), (9753, 95.5), (9793, 97.5), (9833, 99.4), (9873, 101.2), (9913, 102.8), (9953, 104.2), (9993, 105.6), (10033, 107.2), (10073, 108.6), (10113, 110), (10143, 111.3),
    (10155, 100), (10163, 84.5), (10196, 75.6), (10230, 68.8), (10281, 63.2), (10349, 57.6), (10400, 54.5), (10451, 51.8), (10535, 48.5), (10596, 45.5),
    (10613, 56.5), (10630, 57.5), (10650, 57.0), (10700, 57.9), (10750, 58.1), (10823, 58.1), (10925, 58.1), (11027, 57.7), (11094, 57.6), (11140, 57.4), (11179, 55.6), (11210, 56.2), (11230, 56.7), (11298, 56.7), (11365, 56.8), (11467, 57.0), (11535, 57.0), (11650, 57.2), (11823, 57.6),
    (11840, 57.6), (11850, 67), (11857, 71), (11890, 79.5), (11941, 85.3), (12009, 91), (12060, 94), (12110, 96.8), (12160, 98.8), (12210, 100.4), (12260, 102), (12310, 103.2), (12360, 104.2), (12409, 105.1),
    (12415, 95), (12433, 84), (12467, 78.5), (12517, 74), (12585, 71.2), (12653, 69.8), (12687, 69.2), (12721, 68), (12740, 66), (12755, 64), (12770, 61.8), (12788, 59.5), (12810, 57.3), (12822, 55.6), (12850, 53.2), (12880, 52.2),
    (12900, 50), (12925, 48), (12950, 49.6), (12975, 47), (13000, 48.3), (13025, 45.8), (13050, 47.8), (13075, 44.8), (13100, 47.2), (13125, 44), (13150, 48.6), (13175, 43.2), (13200, 46.5), (13225, 42.6), (13255, 45.2), (13280, 42.2), (13310, 47), (13335, 41.6), (13365, 46.2), (13390, 41), (13420, 46.8), (13445, 40.6), (13475, 45.6), (13500, 40.3), (13530, 46.2), (13555, 40.1), (13580, 45), (13600, 39.6), (13611, 40),
    (13630, 56), (13645, 65.5), (13678, 73), (13710, 78), (13740, 81), (13790, 85.8), (13836, 89.5), (13880, 92.7), (13930, 95), (13980, 97.2), (14030, 99), (14080, 100.7), (14130, 102.2), (14170, 103.5), (14195, 104.5),
    (14205, 95), (14219, 89.5), (14243, 84), (14291, 77.3), (14339, 74.6), (14411, 71.8), (14483, 70.3), (14507, 69.5), (14531, 67.5), (14555, 64.6), (14579, 61.5), (14600, 59.2), (14626, 56.8), (14650, 54.6), (14680, 52.8), (14722, 51), (14750, 50),
    (14780, 49.3), (14805, 47.5), (14830, 49.5), (14855, 46.5), (14880, 48.6), (14905, 45.5), (14930, 48.3), (14955, 44.8), (14985, 48), (15010, 44.2), (15040, 47.5), (15065, 43.4), (15095, 47.8), (15120, 42.8), (15150, 47.2), (15175, 42.2), (15205, 46.7), (15230, 41.6), (15260, 47.2), (15285, 41.2), (15315, 46.4), (15340, 40.8), (15370, 45.6), (15395, 40.2), (15410, 45.8), (15417, 40),
    (15435, 51), (15450, 63), (15470, 71), (15489, 76.8), (15520, 80.8), (15560, 84.2), (15600, 87.5), (15656, 91), (15700, 93.2), (15750, 95.3), (15800, 97.3), (15850, 99.3), (15900, 101), (15950, 102.6), (15980, 103.6), (16006, 104.5),
    (16015, 95), (16030, 89.5), (16063, 80.6), (16111, 75.6), (16183, 72.8), (16255, 70.1), (16279, 69.3), (16303, 68.5), (16325, 66.5), (16350, 64.6), (16380, 62.2), (16410, 60.1), (16440, 58.6), (16470, 57.6), (16500, 58.8), (16520, 57.2), (16545, 59.2), (16565, 57.5), (16590, 58.6), (16610, 57.2), (16640, 58.4), (16670, 57), (16700, 57.6), (16740, 57), (16780, 57.4), (16830, 56.8), (16880, 56.6), (16925, 56.4), (16970, 55.9), (17020, 55.6), (17060, 55.3), (17093, 55.3), (17140, 55.6), (17180, 55.5), (17213, 55.9),
    (17236, 62.5), (17255, 71), (17270, 75.6), (17300, 81), (17332, 85.2), (17380, 89.5), (17428, 92.2), (17480, 94.6), (17530, 96.6), (17580, 98.4), (17630, 100.2), (17680, 101.8), (17730, 103.2), (17770, 104.8), (17797, 105.9),
    (17805, 95), (17820, 88.5), (17845, 83), (17883, 78.5), (17955, 74.5), (18027, 71.2), (18099, 69.5), (18123, 66.8), (18150, 66.3), (18180, 66.2), (18220, 65.3), (18260, 65.4), (18300, 64.3), (18340, 64.4), (18380, 63.4), (18420, 63.5), (18458, 62.9), (18500, 62.8), (18540, 62.3), (18580, 62.4), (18620, 61.9), (18660, 62.0), (18700, 61.6), (18750, 61.8), (18800, 61.3), (18841, 61.2), (18880, 61.5), (18920, 61.1), (18960, 61.6), (19000, 61.8), (19020, 62.3),
    (19040, 62.5), (19060, 73), (19080, 78.5), (19100, 82), (19128, 85.3), (19175, 89.2), (19224, 92), (19280, 94.5), (19330, 96.6), (19380, 98.6), (19430, 100.2), (19480, 101.8), (19530, 103.2), (19575, 105), (19607, 106.2),
    (19615, 95), (19631, 89.5), (19655, 83), (19703, 76.2), (19775, 72.8), (19847, 71), (19895, 68.8), (19943, 66), (19970, 64.8), (20000, 63.3),
]

# ---------------- layout helpers ----------------
W, H = 2322, 1352
ML = 156                      # left margin (px)
FONT = "DejaVu Sans"


def fx(px):
    return (px - ML) / (W - ML)


def fy(py):
    return 1 - py / H


fig = go.Figure()

DASH = "15px,6px"
series = [
    (DIODE_REAL, "Real", "black", "solid", "x", "y"),
    (DIODE_TWIN, "Digital Twin", "red", DASH, "x", "y"),
    (IGBT_REAL, "Real", "black", "solid", "x2", "y2"),
    (IGBT_TWIN, "Digital Twin", "red", DASH, "x2", "y2"),
]
for pts, name, color, dash, xa, ya in series:
    t = [p[0] for p in pts]
    v = [p[1] for p in pts]
    fig.add_trace(go.Scatter(x=t, y=v, mode="lines", name=name, showlegend=False,
                             line=dict(color=color, width=2.8, dash=dash),
                             xaxis=xa, yaxis=ya, hoverinfo="skip"))

tickfont = dict(family=FONT, size=26, color="black")
common = dict(showgrid=True, gridcolor="#b0b0b0", gridwidth=1.5, zeroline=False,
              showline=True, linecolor="black", linewidth=1.6,
              ticks="outside", ticklen=8, tickwidth=1.6, tickcolor="black",
              tickfont=tickfont, tickformat=".1f", automargin=False)

XR = [-1000, 20883]
fig.update_layout(
    xaxis=dict(domain=[0, 1], range=XR, tickvals=X_TICKS, mirror=True, anchor="y",
               ticklabelstandoff=-6, **common),
    yaxis=dict(domain=[fy(607.7), fy(63.6)], range=[29.87, 127.21], tickvals=Y_TICKS_DIODE,
               anchor="x", **common),
    xaxis2=dict(domain=[0, 1], range=XR, tickvals=X_TICKS, mirror=True, anchor="y2",
                ticklabelstandoff=-6, **common),
    yaxis2=dict(domain=[fy(1264.3), fy(717.8)], range=[30.73, 115.29], tickvals=Y_TICKS_IGBT,
                anchor="x2", **common),
)

ann = []
for text, yc, size in (("Sensor Diode", 35.5, 39.5), ("Sensor IGBT", 690, 39.5), ("Time [s]", 1328, 35)):
    ann.append(dict(text=text, x=fx(1244.5), y=fy(yc), xref="paper", yref="paper",
                    xanchor="center", yanchor="middle", showarrow=False,
                    font=dict(family=FONT, size=size, color="black")))
for yc in (335.6, 991):
    ann.append(dict(text="Temperature [°C]", x=fx(35.7), y=fy(yc), xref="paper", yref="paper",
                    xanchor="center", yanchor="middle", showarrow=False, textangle=-90,
                    font=dict(family=FONT, size=35, color="black")))

shapes = []
# light grey strips (top and left edges of the screenshot)
shapes.append(dict(type="rect", xref="paper", yref="paper", x0=fx(0), x1=fx(W), y0=fy(4), y1=fy(0),
                   fillcolor="#f0f0f0", line=dict(width=0), layer="below"))
shapes.append(dict(type="rect", xref="paper", yref="paper", x0=fx(0), x1=fx(5), y0=fy(H), y1=fy(0),
                   fillcolor="#f0f0f0", line=dict(width=0), layer="below"))


def rounded_box(x0, y0, x1, y1, r):
    def P(px, py):
        return f"{fx(px):.6f},{fy(py):.6f}"
    return (f"M {P(x0 + r, y0)} L {P(x1 - r, y0)} Q {P(x1, y0)} {P(x1, y0 + r)} "
            f"L {P(x1, y1 - r)} Q {P(x1, y1)} {P(x1 - r, y1)} L {P(x0 + r, y1)} "
            f"Q {P(x0, y1)} {P(x0, y1 - r)} L {P(x0, y0 + r)} Q {P(x0, y0)} {P(x0 + r, y0)} Z")


# legends (one per panel), matplotlib style
for top, r1, r2 in ((81, 109, 161.7), (735, 763.3, 816.5)):
    shapes.append(dict(type="path", xref="paper", yref="paper", path=rounded_box(1992, top, 2315, top + 116, 8),
                       fillcolor="rgba(255,255,255,0.8)", line=dict(color="#cccccc", width=1.5), layer="above"))
    shapes.append(dict(type="line", xref="paper", yref="paper", x0=fx(2003), x1=fx(2074), y0=fy(r1), y1=fy(r1),
                       line=dict(color="black", width=2.8), layer="above"))
    shapes.append(dict(type="line", xref="paper", yref="paper", x0=fx(2003), x1=fx(2074), y0=fy(r2), y1=fy(r2),
                       line=dict(color="red", width=2.8, dash=DASH), layer="above"))
    for txt, yy in (("Real", r1), ("Digital Twin", r2)):
        ann.append(dict(text=txt, x=fx(2102), y=fy(yy), xref="paper", yref="paper",
                        xanchor="left", yanchor="middle", showarrow=False,
                        font=dict(family=FONT, size=35, color="black")))

fig.update_layout(
    template="none",
    width=W, height=H,
    margin=dict(l=ML, r=0, t=0, b=0),
    paper_bgcolor="white", plot_bgcolor="white",
    showlegend=False,
    annotations=ann, shapes=shapes,
    font=dict(family=FONT),
)

fig.write_html("out.html",
               config={"displayModeBar": False},
               post_script="document.body.style.margin='0px';document.body.style.overflow='hidden';")
